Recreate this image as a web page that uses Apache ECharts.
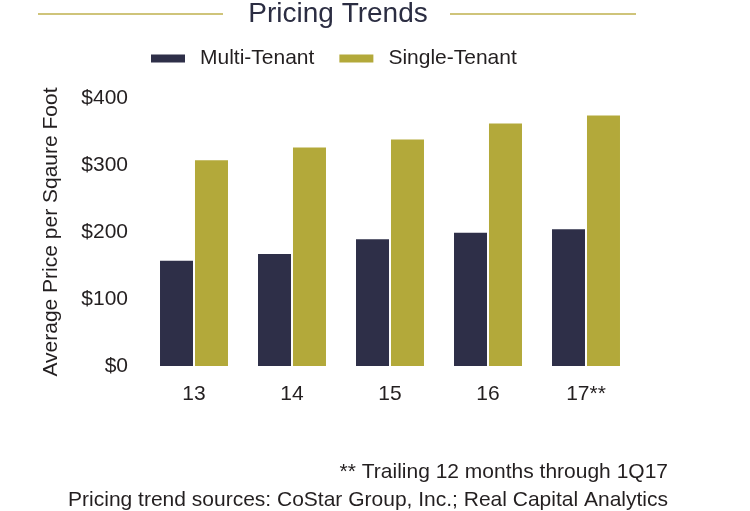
<!DOCTYPE html>
<html>
<head>
<meta charset="utf-8">
<script src="https://cdn.jsdelivr.net/npm/echarts@6/dist/echarts.min.js"></script>
<style>
html,body{margin:0;padding:0;background:#fff;}
#c{width:750px;height:511px;}
</style>
</head>
<body>
<div id="c"></div>
<script>
var categories = ['13', '14', '15', '16', '17**'];
var multiTenant = [157, 167, 189, 199, 204];
var singleTenant = [307, 326, 338, 362, 374];
var yTicks = [0, 100, 200, 300, 400];
var titleText = 'Pricing Trends';
var yAxisName = 'Average Price per Sqaure Foot';
var footnote1 = '** Trailing 12 months through 1Q17';
var footnote2 = 'Pricing trend sources: CoStar Group, Inc.; Real Capital Analytics';

var FONT = '"Liberation Sans", Arial, Helvetica, sans-serif';
var TXT = '#231f20';
var NAVY = '#2e2f48';
var OLIVE = '#b3a93a';

var chart = echarts.init(document.getElementById('c'), null, {renderer: 'canvas'});
chart.setOption({
  backgroundColor: '#fff',
  animation: false,
  textStyle: {fontFamily: FONT},
  graphic: [
    {type: 'line', shape: {x1: 38, y1: 14, x2: 223, y2: 14}, style: {stroke: '#cfc47a', lineWidth: 2}},
    {type: 'line', shape: {x1: 450, y1: 14, x2: 636, y2: 14}, style: {stroke: '#cfc47a', lineWidth: 2}},
    {type: 'text', x: 338, y: 14, style: {text: titleText, fontSize: 28, fontFamily: FONT, fill: '#2b2d42', align: 'center', verticalAlign: 'middle'}},
    {type: 'text', x: 668, y: 472, style: {text: footnote1, fontSize: 21, fontFamily: FONT, fill: TXT, align: 'right', verticalAlign: 'middle'}},
    {type: 'text', x: 668, y: 500, style: {text: footnote2, fontSize: 21, fontFamily: FONT, fill: TXT, align: 'right', verticalAlign: 'middle'}}
  ],
  legend: {
    left: 146,
    top: 43,
    itemWidth: 34,
    itemHeight: 8,
    itemGap: 25,
    icon: 'rect',
    textStyle: {fontSize: 21, color: TXT, fontFamily: FONT, padding: [0, 0, 0, 10]},
    data: ['Multi-Tenant', 'Single-Tenant']
  },
  grid: {left: 145, right: 115, top: 98, bottom: 145, containLabel: false},
  xAxis: {
    type: 'category',
    data: categories,
    axisLine: {show: false},
    axisTick: {show: false},
    axisLabel: {fontSize: 21, color: TXT, margin: 18, fontFamily: FONT}
  },
  yAxis: {
    type: 'value',
    min: yTicks[0],
    max: yTicks[yTicks.length - 1],
    interval: 100,
    name: yAxisName,
    nameLocation: 'middle',
    nameGap: 83,
    nameTextStyle: {fontSize: 21, color: TXT, fontFamily: FONT},
    splitLine: {show: false},
    axisLine: {show: false},
    axisTick: {show: false},
    axisLabel: {fontSize: 21, color: TXT, margin: 17, fontFamily: FONT, formatter: function (v) { return '$' + v; }}
  },
  series: [
    {name: 'Multi-Tenant', type: 'bar', data: multiTenant, barWidth: 33, barGap: '6%', itemStyle: {color: NAVY}},
    {name: 'Single-Tenant', type: 'bar', data: singleTenant, barWidth: 33, barGap: '6%', itemStyle: {color: OLIVE}}
  ]
});
</script>
</body>
</html>
